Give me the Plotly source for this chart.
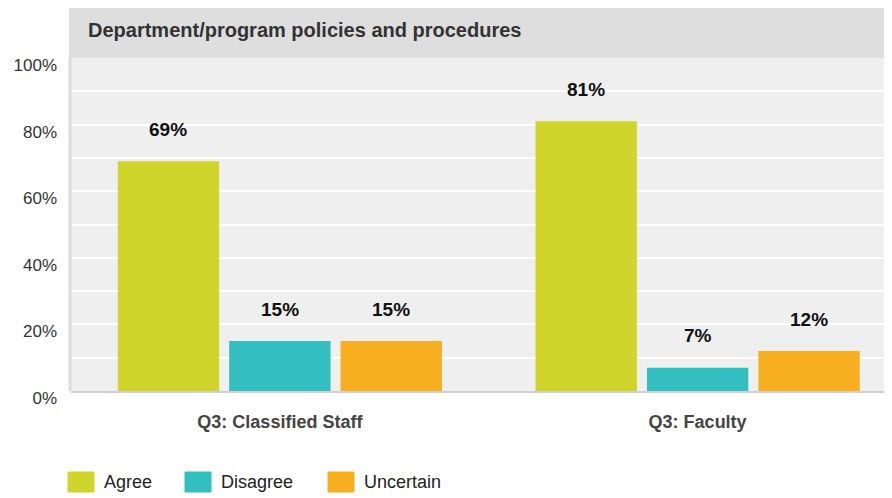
import plotly.graph_objects as go

categories = ["Q3: Classified Staff", "Q3: Faculty"]
series_names = ["Agree", "Disagree", "Uncertain"]
agree = [69, 81]
disagree = [15, 7]
uncertain = [15, 12]
series_values = [agree, disagree, uncertain]
colors = ["#CFD52A", "#33BEBF", "#F7AE1F"]
y_ticks = [0, 20, 40, 60, 80, 100]
y_tick_labels = ["0%", "20%", "40%", "60%", "80%", "100%"]
title_text = "Department/program policies and procedures"

# page offset (browser body margin)
OFF = 8
W, H = 892 - OFF, 498 - OFF
ML, MR, MT, MB = 71 - OFF, 0, 58 - OFF, 498 - 391
PW, PH = W - ML - MR, H - MT - MB
FONT = "Liberation Sans, Arial, sans-serif"
BARGAP = 0.2
CAT_PX = 418  # pixels per category
SLOT_PX = (1 - BARGAP) / len(series_names) * CAT_PX


def px_x(px):
    # px in page coordinates
    return (px - OFF - ML) / PW


def px_y(py):
    return (H - MB - (py - OFF)) / PH


fig = go.Figure()
for si, (name, vals, col) in enumerate(zip(series_names, series_values, colors)):
    fig.add_trace(go.Bar(
        name=name,
        x=categories,
        y=vals,
        marker=dict(color=col, line=dict(width=0)),
        showlegend=False,
        hoverinfo="skip",
    ))
    shift = (si - (len(series_names) - 1) / 2) * SLOT_PX
    for cat, v in zip(categories, vals):
        fig.add_annotation(x=cat, y=v, xref="x", yref="y",
                           text=f"<b>{v}%</b>", showarrow=False,
                           xanchor="center", yanchor="middle",
                           xshift=shift, yshift=32,
                           font=dict(family=FONT, size=19, color="#111111"))

# title band
fig.add_shape(type="rect", xref="paper", yref="paper",
              x0=px_x(69), x1=1.0, y0=1.0, y1=px_y(6),
              fillcolor="#DEDEDE", line=dict(width=0), layer="below")
fig.add_annotation(xref="paper", yref="paper", x=px_x(86), y=px_y(30),
                   text="<b>" + title_text + "</b>", showarrow=False,
                   xanchor="left", yanchor="middle",
                   font=dict(family=FONT, size=20, color="#333333"))

# left axis shadow line
fig.add_shape(type="line", xref="paper", yref="paper",
              x0=px_x(70), x1=px_x(70), y0=0, y1=1,
              line=dict(color="#DCDCDC", width=3))

# custom legend
sw_x = [68, 185, 328]
for name, col, sx in zip(series_names, colors, sw_x):
    fig.add_shape(type="rect", xref="paper", yref="paper",
                  x0=px_x(sx), x1=px_x(sx + 26), y0=px_y(492), y1=px_y(472),
                  fillcolor=col, line=dict(color=col, width=1))
    fig.add_annotation(xref="paper", yref="paper", x=px_x(sx + 34), y=px_y(482),
                       text=name, showarrow=False, xanchor="left", yanchor="middle",
                       font=dict(family=FONT, size=18, color="#222222"))

fig.update_layout(
    width=W, height=H,
    margin=dict(l=ML, r=MR, t=MT, b=MB, pad=0),
    paper_bgcolor="white",
    plot_bgcolor="#EFEFEF",
    barmode="group",
    bargap=BARGAP,
    bargroupgap=0.09,
    showlegend=False,
    font=dict(family=FONT),
    xaxis=dict(
        type="category",
        range=[-0.5, 1 + (892 - 697.5) / CAT_PX],
        showgrid=False,
        showline=True, linecolor="#D0D0D0", linewidth=2,
        ticks="outside", ticklen=0, tickcolor="rgba(0,0,0,0)",
        ticklabelstandoff=13,
        tickfont=dict(family=FONT, size=18, color="#444444", weight="bold"),
        fixedrange=True,
    ),
    yaxis=dict(
        range=[0, 100],
        tickvals=y_ticks,
        ticktext=y_tick_labels,
        showgrid=True, gridcolor="white", gridwidth=2,
        minor=dict(dtick=10, showgrid=True, gridcolor="white", gridwidth=2),
        zeroline=False,
        showline=False,
        ticks="", ticklabelstandoff=13, ticklabelshift=7,
        tickfont=dict(family=FONT, size=17, color="#333333"),
        fixedrange=True,
    ),
)

fig.write_html("out.html")
